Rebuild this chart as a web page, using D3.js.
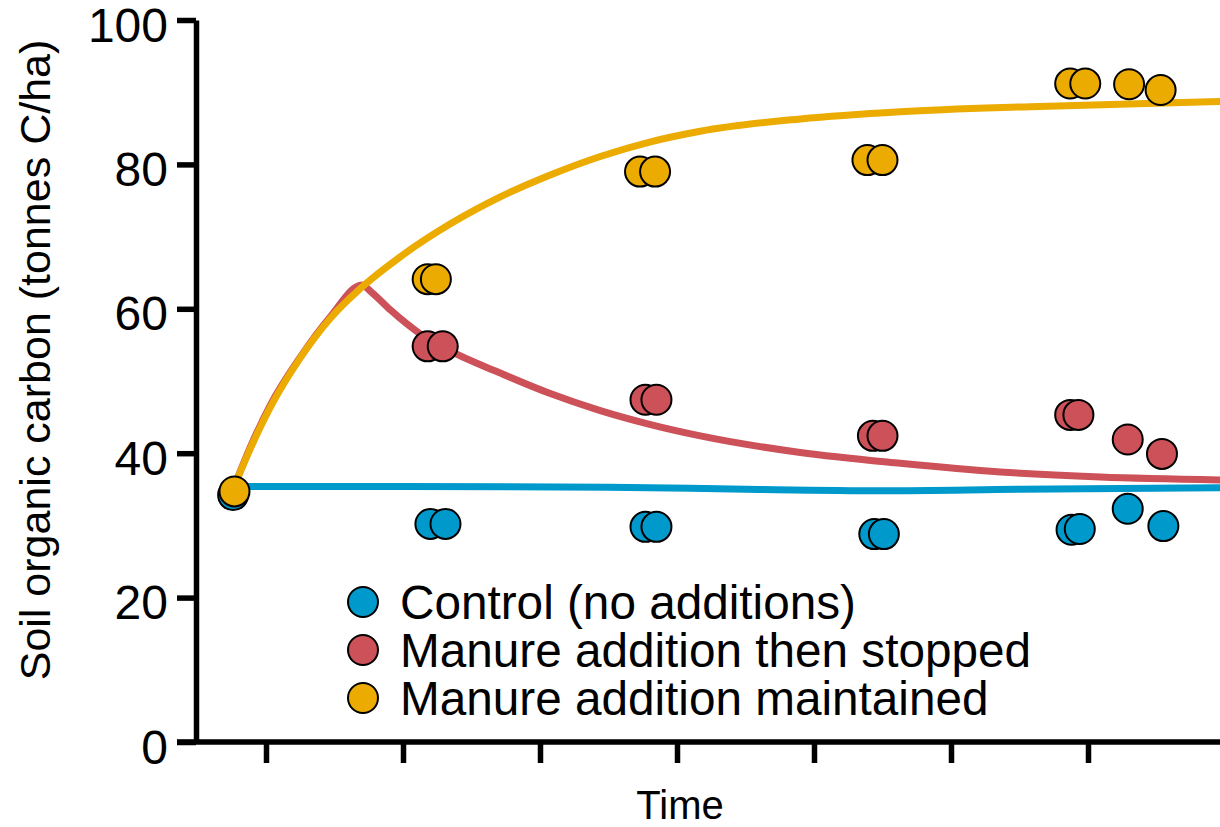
<!DOCTYPE html>
<html>
<head>
<meta charset="utf-8">
<script src="https://cdn.jsdelivr.net/npm/d3@7"></script>
<style>
  body { margin: 0; background: #fff; }
  svg { display: block; font-family: "Liberation Sans", Arial, sans-serif; }
</style>
</head>
<body>
<script>
// series names and colours
var seriesNames = ["Control (no additions)", "Manure addition then stopped", "Manure addition maintained"];
var seriesColors = ["#0099cc", "#cc5158", "#ebab00"];

// observed points (time in arbitrary units, SOC in tonnes C/ha)
var controlTime = [0.76, 2.20, 2.31, 3.77, 3.85, 5.44, 5.51, 6.88, 6.94, 7.29, 7.55];
var controlSoc  = [34.2, 30.2, 30.2, 29.8, 29.8, 28.8, 28.8, 29.4, 29.5, 32.3, 29.9];

var stoppedTime = [2.18, 2.29, 3.77, 3.85, 5.43, 5.50, 6.87, 6.93, 7.29, 7.54];
var stoppedSoc  = [54.8, 54.8, 47.4, 47.4, 42.4, 42.4, 45.3, 45.3, 41.9, 39.9];

var maintTime = [0.77, 2.18, 2.24, 3.73, 3.84, 5.39, 5.50, 6.87, 6.98, 7.30, 7.53];
var maintSoc  = [34.7, 64.1, 64.1, 79.0, 79.0, 80.6, 80.6, 91.2, 91.2, 91.1, 90.3];

// model curves
var controlCurveTime = [0.77, 2.0, 3.5, 4.5, 5.5, 6.5, 7.97];
var controlCurveSoc  = [35.4, 35.4, 35.3, 35.0, 34.8, 35.0, 35.2];

var stoppedCurveTime = [0.77, 0.88, 1.03, 1.25, 1.47, 1.70, 1.77, 1.91, 2.12, 2.34, 2.71, 3.07, 3.44, 3.80, 4.17, 4.90, 5.63, 6.36, 7.09, 7.97];
var stoppedCurveSoc  = [35.5, 40.6, 46.6, 53.3, 58.9, 63.3, 62.3, 59.8, 56.6, 54.2, 51.1, 48.3, 45.9, 44.0, 42.4, 40.1, 38.6, 37.4, 36.7, 36.3];

var maintCurveTime = [0.77, 0.88, 1.03, 1.25, 1.47, 1.70, 1.98, 2.34, 2.71, 3.07, 3.44, 3.80, 4.17, 4.90, 5.63, 6.58, 7.97];
var maintCurveSoc  = [35.5, 40.4, 46.3, 53.2, 58.7, 63.0, 67.2, 71.7, 75.5, 78.5, 81.1, 83.1, 84.6, 86.3, 87.3, 88.0, 88.7];

var yTicks = [0, 20, 40, 60, 80, 100];
var xTicks = [1, 2, 3, 4, 5, 6, 7, 8];

var w = 1220;
var h = 827;

var svg = d3.select("body")
  .append("svg")
  .attr("width", w)
  .attr("height", h);

var x = d3.scaleLinear().domain([0, 8]).range([129, 1225]);
var y = d3.scaleLinear().domain([0, 100]).range([742, 20]);

// y axis
var yAxis = svg.append("g")
  .attr("transform", "translate(196,0)")
  .call(d3.axisLeft(y).tickValues(yTicks).tickSize(19).tickSizeOuter(0).tickPadding(9));
yAxis.select(".domain").attr("stroke", "#000").attr("stroke-width", 5.5);
yAxis.selectAll(".tick line").attr("stroke", "#000").attr("stroke-width", 5.5);
yAxis.selectAll(".tick text")
  .attr("font-size", "48px")
  .attr("font-family", "Liberation Sans, Arial, sans-serif")
  .attr("fill", "#000")
  .attr("dy", "0.44em");

// x axis (unlabelled ticks)
var xAxis = svg.append("g")
  .attr("transform", "translate(0,742)")
  .call(d3.axisBottom(x).tickValues(xTicks).tickSize(21).tickFormat(""));
xAxis.select(".domain").remove();
xAxis.selectAll(".tick line").attr("stroke", "#000").attr("stroke-width", 5.5);
svg.append("line")
  .attr("x1", 177).attr("x2", w)
  .attr("y1", 742).attr("y2", 742)
  .attr("stroke", "#000")
  .attr("stroke-width", 5.5);

// axis titles
svg.append("text")
  .text("Time")
  .attr("x", 680)
  .attr("y", 819)
  .attr("font-size", "40px")
  .attr("text-anchor", "middle");

svg.append("text")
  .text("Soil organic carbon (tonnes C/ha)")
  .attr("transform", "translate(50,360) rotate(-90)")
  .attr("font-size", "43px")
  .attr("text-anchor", "middle");

// curves
var line = d3.line()
  .x(function(d) { return x(d[0]); })
  .y(function(d) { return y(d[1]); })
  .curve(d3.curveMonotoneX);

var curves = [
  d3.zip(controlCurveTime, controlCurveSoc),
  d3.zip(stoppedCurveTime, stoppedCurveSoc),
  d3.zip(maintCurveTime, maintCurveSoc)
];

svg.selectAll("path.curve")
  .data(curves)
  .enter()
  .append("path")
  .attr("class", "curve")
  .attr("d", line)
  .attr("fill", "none")
  .attr("stroke", function(d, i) { return seriesColors[i]; })
  .attr("stroke-width", 7)
  .attr("stroke-linejoin", "round");

// points
var points = [
  d3.zip(controlTime, controlSoc),
  d3.zip(stoppedTime, stoppedSoc),
  d3.zip(maintTime, maintSoc)
];

points.forEach(function(pts, i) {
  svg.append("g").selectAll("circle")
    .data(pts)
    .enter()
    .append("circle")
    .attr("cx", function(d) { return x(d[0]); })
    .attr("cy", function(d) { return y(d[1]); })
    .attr("r", 15)
    .attr("fill", seriesColors[i])
    .attr("stroke", "#000")
    .attr("stroke-width", 2);
});

// legend
var legend = svg.append("g");
legend.selectAll("circle")
  .data(seriesNames)
  .enter()
  .append("circle")
  .attr("cx", 363)
  .attr("cy", function(d, i) { return 602 + i * 48; })
  .attr("r", 15)
  .attr("fill", function(d, i) { return seriesColors[i]; })
  .attr("stroke", "#000")
  .attr("stroke-width", 2);

legend.selectAll("text")
  .data(seriesNames)
  .enter()
  .append("text")
  .text(function(d) { return d; })
  .attr("x", 400)
  .attr("y", function(d, i) { return 619 + i * 48; })
  .attr("font-size", "47.7px")
  .attr("fill", "#000");
</script>
</body>
</html>
